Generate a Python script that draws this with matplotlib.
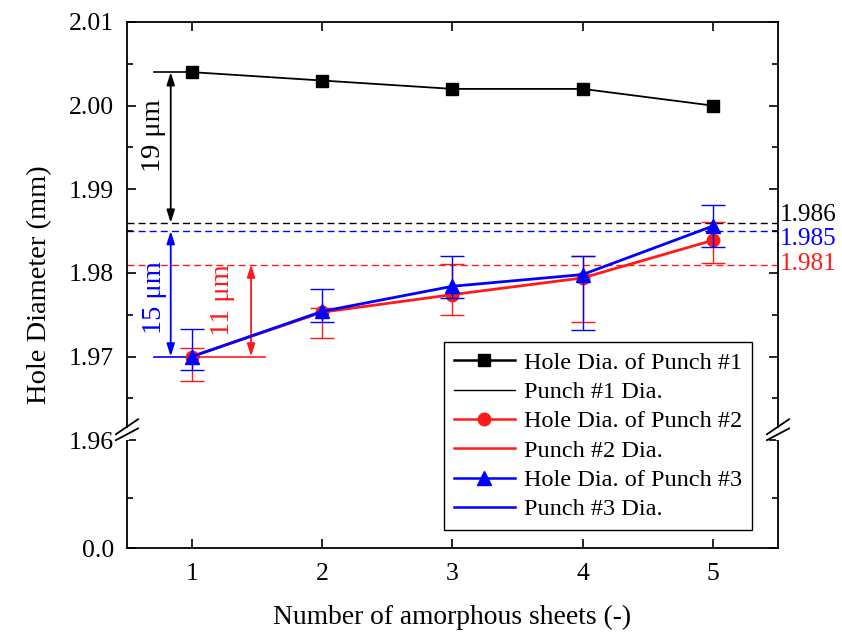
import numpy as np
import matplotlib
matplotlib.use("Agg")
import matplotlib.pyplot as plt
from matplotlib.lines import Line2D

plt.rcParams['font.family'] = ['Liberation Serif', 'DejaVu Serif']

# measured hole diameters (mm) vs number of amorphous sheets
sheets = [1, 2, 3, 4, 5]
hole_p1 = [2.004, 2.003, 2.002, 2.002, 2.000]
hole_p2 = [1.9700, 1.9753, 1.9774, 1.9794, 1.9839]
hole_p3 = [1.9700, 1.9754, 1.9784, 1.9798, 1.9856]
# asymmetric error bars (lower, upper)
err_p2_lo = [0.0029, 0.0031, 0.0024, 0.0053, 0.0027]
err_p2_hi = [0.0010, 0.0005, 0.0037, 0.0026, 0.0022]
err_p3_lo = [0.0016, 0.0013, 0.0014, 0.0066, 0.0025]
err_p3_hi = [0.0033, 0.0027, 0.0036, 0.0022, 0.0025]

# punch diameters (mm)
punch_dia = [1.986, 1.981, 1.985]
punch_labels = ['1.986', '1.981', '1.985']
punch_label_y = [1.9869, 1.9811, 1.9840]

RED = '#ff1a1a'
BLUE = '#0000ff'
series_colors = ['black', RED, BLUE]

# broken y axis: 0 .. 1.96 squeezed into a short band below the 1.96 .. 2.01 range
Y_BREAK = 1.96
LOW_H = 0.0129


def fwd(y):
    y = np.asarray(y, dtype=float)
    return np.where(y >= Y_BREAK, y, Y_BREAK - LOW_H + y / Y_BREAK * LOW_H)


def inv(u):
    u = np.asarray(u, dtype=float)
    return np.where(u >= Y_BREAK, u, (u - (Y_BREAK - LOW_H)) * Y_BREAK / LOW_H)


fig = plt.figure(figsize=(8.42, 6.32), dpi=100)
ax = fig.add_axes([0.1508, 0.1329, 0.7732, 0.8323])
ax.set_yscale('function', functions=(fwd, inv))
ax.set_xlim(0.5, 5.5)
ax.set_ylim(0.0, 2.01)

# punch diameter reference lines
for d, c in zip(punch_dia, series_colors):
    ax.axhline(d, color=c, lw=1.0, ls=(0, (5, 3)), zorder=1)

# hole diameters
ax.plot(sheets, hole_p1, color='black', lw=1.3, marker='s', ms=8.5, zorder=5)
ax.errorbar(sheets, hole_p2, yerr=[err_p2_lo, err_p2_hi], color=RED, lw=2.0,
            marker='o', ms=9, elinewidth=1.0, capsize=8.3, capthick=1.0, zorder=4)
ax.errorbar(sheets, hole_p3, yerr=[err_p3_lo, err_p3_hi], color=BLUE, lw=2.0,
            marker='^', ms=9.5, elinewidth=1.0, capsize=8.3, capthick=1.0, zorder=6)

# gap annotations
ax.plot([0.71, 1.0], [hole_p1[0], hole_p1[0]], color='black', lw=1.2, zorder=3)
ax.plot([0.71, 1.05], [hole_p3[0], hole_p3[0]], color=BLUE, lw=1.2, zorder=3)
ax.plot([1.0, 1.56], [hole_p2[0], hole_p2[0]], color=RED, lw=1.2, zorder=2)

arrow = dict(arrowstyle='<|-|>,head_length=0.75,head_width=0.24', lw=1.3,
             shrinkA=0, shrinkB=0)
ax.annotate('', xy=(0.836, hole_p1[0]), xytext=(0.836, punch_dia[0]),
            arrowprops=dict(arrow, color='black'))
ax.annotate('', xy=(0.836, punch_dia[2]), xytext=(0.836, hole_p3[0]),
            arrowprops=dict(arrow, color=BLUE))
ax.annotate('', xy=(1.453, punch_dia[1]), xytext=(1.453, hole_p2[0]),
            arrowprops=dict(arrow, color=RED))

ax.text(0.70, 1.9964, '19 μm', rotation=90, color='black', fontsize=20.5,
        ha='center', va='center')
ax.text(0.71, 1.9771, '15 μm', rotation=90, color=BLUE, fontsize=20.5,
        ha='center', va='center')
ax.text(1.23, 1.9768, '11 μm', rotation=90, color=RED, fontsize=20.5,
        ha='center', va='center')

# punch diameter values beside the right spine
for txt, yy, c in zip(punch_labels, punch_label_y, series_colors):
    ax.text(5.515, yy, txt, color=c, fontsize=18.2, ha='left', va='center',
            clip_on=False)

# ticks
ax.set_xticks(sheets)
ax.set_yticks([0.0, 1.96, 1.97, 1.98, 1.99, 2.00, 2.01])
ax.set_yticklabels(['0.0', '1.96', '1.97', '1.98', '1.99', '2.00', '2.01'])
ax.set_yticks([0.9, 1.965, 1.975, 1.985, 1.995, 2.005], minor=True)
ax.tick_params(which='both', direction='in', top=True, right=True,
               labelsize=18.5, width=1.2)
ax.tick_params(which='major', length=6.5)
ax.tick_params(which='minor', length=4)
ax.tick_params(axis='x', pad=11)
ax.tick_params(axis='y', pad=9.5)
for s in ax.spines.values():
    s.set_linewidth(1.3)

# axis break marks on both spines
bt = ax.get_yaxis_transform()
for xs in (0.0, 1.0):
    ax.plot([xs, xs], [1.958, 1.9615], transform=bt, color='white', lw=3,
            clip_on=False, zorder=10, solid_capstyle='butt')
    for yc in (1.9616, 1.9605):
        ax.plot([xs - 0.017, xs + 0.017], [yc - 0.0009, yc + 0.0009],
                transform=bt, color='black', lw=1.3, clip_on=False, zorder=11)

ax.set_xlabel('Number of amorphous sheets (-)', fontsize=19.8, labelpad=14)
ax.set_ylabel('Hole Diameter (mm)', fontsize=20.5, labelpad=12)

handles = [
    Line2D([], [], color='black', lw=1.8, marker='s', ms=8.5),
    Line2D([], [], color='black', lw=1.0),
    Line2D([], [], color=RED, lw=1.8, marker='o', ms=9),
    Line2D([], [], color=RED, lw=1.8),
    Line2D([], [], color=BLUE, lw=1.8, marker='^', ms=9.5),
    Line2D([], [], color=BLUE, lw=1.8),
]
labels = ['Hole Dia. of Punch #1', 'Punch #1 Dia.', 'Hole Dia. of Punch #2',
          'Punch #2 Dia.', 'Hole Dia. of Punch #3', 'Punch #3 Dia.']
leg = ax.legend(handles, labels, loc='lower left', bbox_to_anchor=(0.487, 0.034),
                fontsize=17.5, frameon=True, fancybox=False, framealpha=1,
                edgecolor='black', handlelength=2.5, handletextpad=0.4,
                labelspacing=0.3, borderpad=0.4, borderaxespad=0)
leg.get_frame().set_linewidth(1.0)
leg.set_zorder(20)

fig.savefig('out.png', dpi=100)
